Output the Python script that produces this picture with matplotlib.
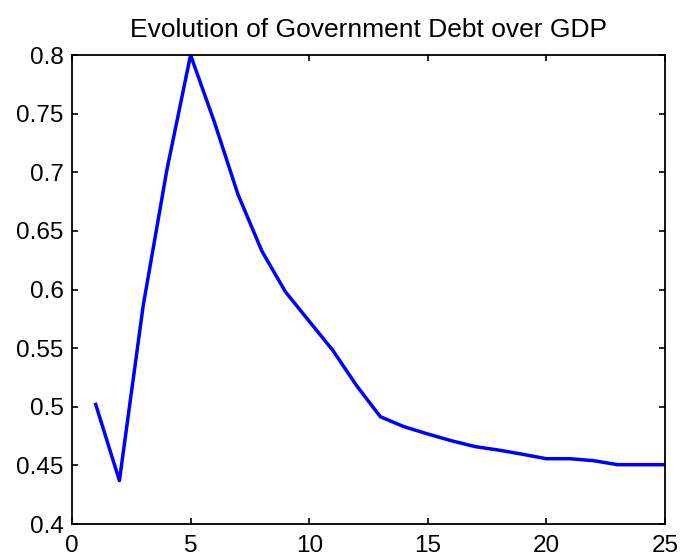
import numpy as np
import matplotlib
matplotlib.use("Agg")
import matplotlib.pyplot as plt

plt.rcParams['font.family'] = ['Liberation Sans', 'DejaVu Sans']

# debt / GDP ratio per period
periods = np.arange(1, 26)
debt_gdp = [0.502, 0.437, 0.586, 0.702, 0.800, 0.743, 0.681, 0.633, 0.598,
            0.573, 0.548, 0.518, 0.4915, 0.483, 0.4768, 0.471, 0.466, 0.463,
            0.4595, 0.4557, 0.4557, 0.454, 0.4506, 0.4506, 0.4506]

fig = plt.figure(figsize=(6.81, 5.53), dpi=100)
ax = fig.add_axes([0.1057, 0.0524, 0.8708, 0.8481])
ax.plot(periods, debt_gdp, color='#0000ff', linewidth=2.5)
ax.set_xlim(0, 25)
ax.set_ylim(0.4, 0.8)
ax.set_xticks([0, 5, 10, 15, 20, 25])
ax.set_yticks([0.4, 0.45, 0.5, 0.55, 0.6, 0.65, 0.7, 0.75, 0.8])
ax.set_yticklabels(['0.4', '0.45', '0.5', '0.55', '0.6', '0.65', '0.7', '0.75', '0.8'])
ax.tick_params(direction='in', top=True, right=True, labelsize=17.5, length=4, width=1.2)
ax.tick_params(axis='x', pad=8)
ax.tick_params(axis='y', pad=6)
for s in ax.spines.values():
    s.set_linewidth(1.3)
ax.set_title('Evolution of Government Debt over GDP', fontsize=19, pad=13)

fig.savefig('out.png', dpi=100)
